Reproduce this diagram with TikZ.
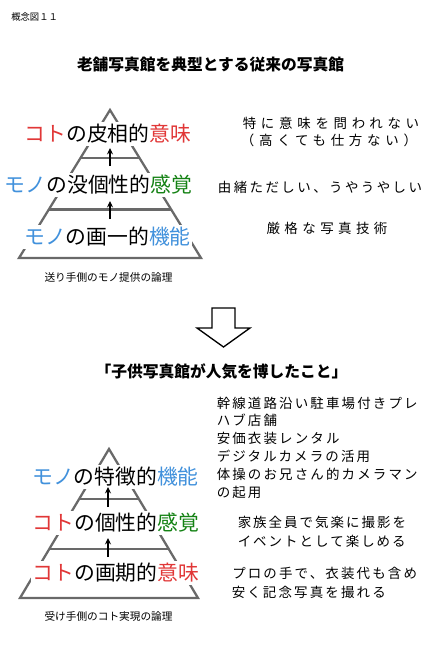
\documentclass[tikz,border=0pt]{standalone}
\usepackage{fontspec}
\setmainfont{Noto Sans CJK JP}
\usetikzlibrary{arrows.meta,calc}
\definecolor{kred}{RGB}{225,55,55}
\definecolor{kblue}{RGB}{65,145,220}
\definecolor{kgreen}{RGB}{20,130,20}
\definecolor{pgray}{RGB}{105,105,105}
\newcommand{\kfs}[1]{\fontsize{#1}{#1}\selectfont}
\tikzset{
  pyr/.style={draw=pgray, line width=1.7pt},
  lbl/.style={fill=white, inner sep=1pt, text height=13.7pt, text depth=1.9pt, font=\kfs{15.6pt}},
  rtx/.style={inner sep=0pt, text height=8.9pt, text depth=1.2pt, font={\kfs{10.1pt}\addfontfeature{LetterSpace=#1}}},
  rtx/.default=16,
  captxt/.style={inner sep=0pt, font=\kfs{8pt}},
  ttl/.style={inner sep=0pt, font=\kfs{11.8pt}\bfseries},
  varr/.style={line width=1pt, -{Stealth[length=4.8pt,width=4.5pt]}},
  hollow/.style={draw=black, line width=1pt, fill=white, line join=miter}
}
\begin{document}
\begin{tikzpicture}[x=0.75pt,y=-0.75pt]
\path[use as bounding box] (0,0) rectangle (431,650);
\fill[white] (0,0) rectangle (431,650);

% header
\node[anchor=west, inner sep=0pt, font=\kfs{7pt}] (fig) at (11,17) {概念図１１};
\node[ttl] (title1) at (210.5,65) {老舗写真館を典型とする従来の写真館};

% ---------- upper pyramid ----------
\coordinate (A1) at (110,110);
\coordinate (L1) at (19,258);
\coordinate (R1) at (201,258);
\draw[pyr] (L1) -- (A1) -- (R1) -- cycle;
\draw[pyr] ($(A1)!0.324!(L1)$) -- ($(A1)!0.324!(R1)$);
\draw[pyr] ($(A1)!0.672!(L1)$) -- ($(A1)!0.672!(R1)$);

\node[lbl] (u1) at (108,134) {\textcolor{kred}{コト}の皮相的\textcolor{kred}{意味}};
\node[lbl] (u2) at (98.5,185) {\textcolor{kblue}{モノ}の没個性的\textcolor{kgreen}{感覚}};
\node[lbl] (u3) at (107.5,237) {\textcolor{kblue}{モノ}の画一的\textcolor{kblue}{機能}};

\coordinate (ua1s) at (110,166);
\coordinate (ua1e) at (110,148);
\coordinate (ua2s) at (110,219);
\coordinate (ua2e) at (110,201);
\draw[varr] (ua1s) -- (ua1e);
\draw[varr] (ua2s) -- (ua2e);

\node[captxt] (cap1) at (108.5,277) {送り手側のモノ提供の論理};

\node[rtx=35] (t1) at (331,123) {特に意味を問われない};
\node[rtx=35] (t2) at (329,140) {（高くても仕方ない）};
\node[rtx=18] (t3) at (320,187) {由緒ただしい、うやうやしい};
\node[rtx=33] (t4) at (327,228) {厳格な写真技術};

% ---------- big hollow arrow ----------
\draw[hollow] (212,308) -- (235,308) -- (235,328) -- (250,328) -- (223.5,347)
  -- (197,328) -- (212,328) -- cycle;

\node[ttl] (title2) at (221.5,372) {「子供写真館が人気を博したこと」};

% ---------- lower pyramid ----------
\coordinate (A2) at (109,449);
\coordinate (L2) at (20,598);
\coordinate (R2) at (198,598);
\draw[pyr] (L2) -- (A2) -- (R2) -- cycle;
\draw[pyr] ($(A2)!0.336!(L2)$) -- ($(A2)!0.336!(R2)$);
\draw[pyr] ($(A2)!0.671!(L2)$) -- ($(A2)!0.671!(R2)$);

\node[lbl] (b1) at (115.5,477) {\textcolor{kblue}{モノ}の特徴的\textcolor{kblue}{機能}};
\node[lbl] (b2) at (116,523) {\textcolor{kred}{コト}の個性的\textcolor{kgreen}{感覚}};
\node[lbl] (b3) at (116,573) {\textcolor{kred}{コト}の画期的\textcolor{kred}{意味}};

\coordinate (ba1s) at (108,507);
\coordinate (ba1e) at (108,487);
\coordinate (ba2s) at (108,557);
\coordinate (ba2e) at (108,538);
\draw[varr] (ba1s) -- (ba1e);
\draw[varr] (ba2s) -- (ba2e);

\node[captxt] (cap2) at (108.5,616) {受け手側のコト実現の論理};

\node[rtx, anchor=west] (r1) at (216.5,403) {幹線道路沿い駐車場付きプレ};
\node[rtx, anchor=west] (r2) at (216.5,420.8) {ハブ店舗};
\node[rtx, anchor=west] (r3) at (216.5,438.6) {安価衣装レンタル};
\node[rtx, anchor=west] (r4) at (216.5,456.4) {デジタルカメラの活用};
\node[rtx, anchor=west] (r5) at (216.5,474.2) {体操のお兄さん的カメラマン};
\node[rtx, anchor=west] (r6) at (216.5,492) {の起用};

\node[rtx=15, anchor=west] (s1) at (237.5,522) {家族全員で気楽に撮影を};
\node[rtx=15, anchor=west] (s2) at (237.5,541) {イベントとして楽しめる};

\node[rtx, anchor=west] (p1) at (232,573) {プロの手で、衣装代も含め};
\node[rtx, anchor=west] (p2) at (231.5,592) {安く記念写真を撮れる};
\end{tikzpicture}
\end{document}
